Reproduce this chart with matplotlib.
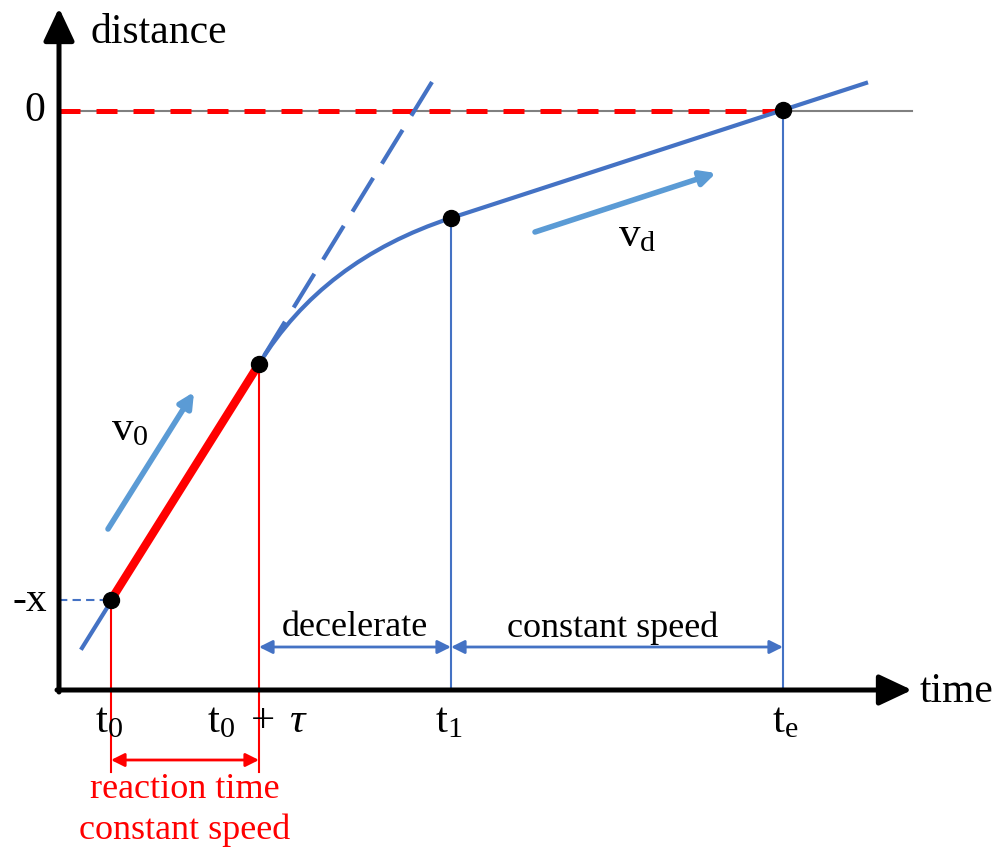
import numpy as np
import matplotlib.pyplot as plt
from matplotlib.path import Path
from matplotlib.patches import PathPatch

plt.rcParams['font.family'] = ['Liberation Serif', 'DejaVu Serif']
plt.rcParams['mathtext.fontset'] = 'custom'
plt.rcParams['mathtext.rm'] = 'Liberation Serif'
plt.rcParams['mathtext.it'] = 'Liberation Serif:italic'

blue = '#4472C4'
light_blue = '#5B9BD5'
red = '#FF0000'

# key points (figure pixel coordinates, y downwards)
t_pos = [111, 259, 451, 783]          # t0, t0+tau, t1, te
d_pos = [600, 364, 218, 110]          # distance at those times
t_labels = [r'$\mathrm{t_0}$', r'$\mathrm{t_0}\;+\;\tau$', r'$\mathrm{t_1}$', r'$\mathrm{t_e}$']
t_label_x = [109, 257, 449, 785]
origin = (59, 690)
zero_y = 111

# approach line and constant-speed line ends
pre_start = (82, 648)
post_end = (866, 83)
tangent_end = (432, 82)
# quadratic bezier control points for the decelerating part
bez_x = [259, 323, 451]
bez_y = [364, 260, 218]

fig = plt.figure(figsize=(10, 8.51), dpi=100)
ax = fig.add_axes([0, 0, 1, 1])
ax.set_xlim(0, 1000)
ax.set_ylim(851, 0)
ax.axis('off')

# zero line
ax.plot([origin[0], 912], [zero_y, zero_y], color='#808080', lw=1.5, zorder=1)
ax.plot([origin[0], t_pos[3]], [zero_y, zero_y], color=red, lw=3.6,
        dashes=(4.2, 3.2), zorder=2)

# axes with arrows
head = '-|>,head_length=0.5,head_width=0.235'
ax.annotate('', xy=(origin[0], 8), xytext=(origin[0], origin[1] + 2),
            arrowprops=dict(arrowstyle=head, color='black', lw=3.6,
                            mutation_scale=40, shrinkA=0, shrinkB=0), zorder=5)
ax.annotate('', xy=(912, origin[1]), xytext=(origin[0] - 2, origin[1]),
            arrowprops=dict(arrowstyle=head, color='black', lw=3.6,
                            mutation_scale=40, shrinkA=0, shrinkB=0), zorder=5)
ax.text(90, 33, 'distance', fontsize=30, ha='left', va='center')
ax.text(920, 692, 'time', fontsize=30, ha='left', va='center')
ax.text(35, 111, '0', fontsize=30, ha='center', va='center')
ax.text(30, 601, '-x', fontsize=30, ha='center', va='center')

# -x guide
ax.plot([origin[0], t_pos[0]], [d_pos[0], d_pos[0]], color=blue, lw=1.5,
        dashes=(4, 2.5))

# vertical lines
ax.plot([t_pos[0]] * 2, [d_pos[0], 772], color=red, lw=1.5, zorder=1)
ax.plot([t_pos[1]] * 2, [d_pos[1], 772], color=red, lw=1.5, zorder=1)
ax.plot([t_pos[2]] * 2, [d_pos[2], origin[1]], color=blue, lw=1.5, zorder=1)
ax.plot([t_pos[3]] * 2, [d_pos[3], origin[1]], color=blue, lw=1.5, zorder=1)

# trajectory
ax.plot([pre_start[0], t_pos[1]], [pre_start[1], d_pos[1]], color=blue, lw=3, zorder=3)
ax.plot([t_pos[0], t_pos[1]], [d_pos[0], d_pos[1]], color=red, lw=6,
        solid_capstyle='butt', zorder=3)
ax.plot([tangent_end[0], t_pos[1]], [tangent_end[1], d_pos[1]], color=blue, lw=3,
        dashes=(9.5, 4), zorder=3)
bez = Path(list(zip(bez_x, bez_y)), [Path.MOVETO, Path.CURVE3, Path.CURVE3])
ax.add_patch(PathPatch(bez, facecolor='none', edgecolor=blue, lw=3, zorder=3))
ax.plot([t_pos[2], post_end[0]], [d_pos[2], post_end[1]], color=blue, lw=3, zorder=3)
ax.plot(t_pos, d_pos, 'o', color='black', markersize=11.5, zorder=6)

# speed arrows
ax.annotate('', xy=(194, 392), xytext=(108, 529),
            arrowprops=dict(arrowstyle='-|>', color=light_blue, lw=4,
                            mutation_scale=22, shrinkA=0, shrinkB=0))
ax.text(130, 430, r'$\mathrm{v_0}$', fontsize=31, ha='center', va='center')
ax.annotate('', xy=(716, 173), xytext=(535, 232),
            arrowprops=dict(arrowstyle='-|>', color=light_blue, lw=4,
                            mutation_scale=22, shrinkA=0, shrinkB=0))
ax.text(637, 236, r'$\mathrm{v_d}$', fontsize=31, ha='center', va='center')

# phase arrows
ax.annotate('', xy=(t_pos[0], 760), xytext=(t_pos[1], 760),
            arrowprops=dict(arrowstyle='<|-|>', color=red, lw=2,
                            mutation_scale=20, shrinkA=0, shrinkB=0))
ax.annotate('', xy=(t_pos[1], 647), xytext=(t_pos[2], 647),
            arrowprops=dict(arrowstyle='<|-|>', color=blue, lw=2,
                            mutation_scale=20, shrinkA=0, shrinkB=0))
ax.annotate('', xy=(t_pos[2], 647), xytext=(t_pos[3], 647),
            arrowprops=dict(arrowstyle='<|-|>', color=blue, lw=2,
                            mutation_scale=20, shrinkA=0, shrinkB=0))
ax.text(355, 628, 'decelerate', fontsize=26, ha='center', va='center')
ax.text(613, 628, 'constant speed', fontsize=26, ha='center', va='center')
ax.text(185, 790, 'reaction time', fontsize=26, ha='center', va='center', color=red)
ax.text(185, 830, 'constant speed', fontsize=26, ha='center', va='center', color=red)

# time labels
for x, lab in zip(t_label_x, t_labels):
    ax.text(x, 722, lab, fontsize=31, ha='center', va='center')

fig.savefig('out.png', dpi=100)
